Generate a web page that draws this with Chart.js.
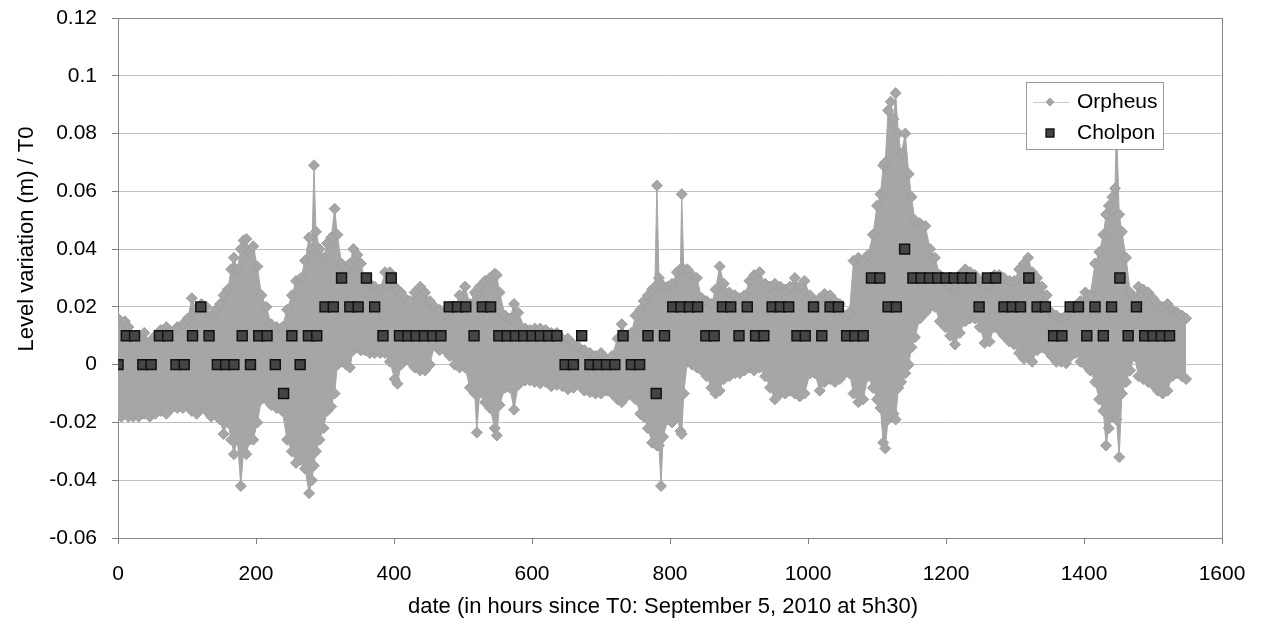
<!DOCTYPE html>
<html>
<head>
<meta charset="utf-8">
<title>Level variation - Orpheus / Cholpon</title>
<script src="https://cdn.jsdelivr.net/npm/chart.js@4.4.1/dist/chart.umd.min.js"></script>
<style>
    body { margin: 0; background: #ffffff; }
    #wrap { width: 1262px; height: 623px; }
</style>
</head>
<body>
<div id="wrap"><canvas id="levelChart" width="1262" height="623"></canvas></div>
<script>
// ===================================
// Data
// ===================================

// Orpheus: dense record, kept as its upper and lower envelope (hours since T0)
const orpheusHours = [
    0, 5, 10, 15, 22, 30, 38, 46, 54, 62,
    70, 78, 86, 94, 101, 107, 114, 121, 128, 135,
    142, 148, 153, 159, 164, 168, 173, 178, 182, 186,
    191, 196, 202, 208, 215, 222, 230, 238, 245, 252,
    258, 265, 271, 277, 281, 284, 287, 292, 298, 303,
    309, 314, 318, 324, 331, 336, 341, 347, 352, 358,
    365, 372, 380, 387, 394, 401, 405, 410, 416, 423,
    430, 438, 445, 452, 459, 466, 474, 481, 488, 495,
    503, 510, 517, 520, 524, 532, 539, 546, 549, 553,
    561, 568, 574, 580, 590, 597, 604, 612, 620, 628,
    636, 644, 652, 660, 668, 676, 684, 692, 700, 708,
    716, 724, 730, 737, 744, 750, 757, 762, 768, 774,
    778, 781, 784, 787, 790, 797, 803, 810, 815, 817,
    820, 825, 832, 839, 846, 853, 860, 866, 872, 878,
    886, 894, 901, 908, 915, 922, 930, 938, 945, 952,
    960, 967, 974, 981, 988, 995, 1003, 1010, 1017, 1024,
    1032, 1039, 1046, 1053, 1060, 1066, 1073, 1080, 1087, 1094,
    1100, 1105, 1109, 1112, 1116, 1120, 1124, 1127, 1131, 1135,
    1141, 1146, 1150, 1155, 1162, 1170, 1177, 1184, 1191, 1199,
    1206, 1213, 1220, 1228, 1235, 1242, 1249, 1256, 1263, 1270,
    1277, 1284, 1292, 1299, 1306, 1313, 1319, 1325, 1332, 1339,
    1346, 1353, 1360, 1367, 1374, 1381, 1388, 1395, 1402, 1409,
    1416, 1422, 1428, 1432, 1436, 1441, 1445, 1447, 1451, 1455,
    1461, 1467, 1473, 1479, 1486, 1493, 1500, 1507, 1514, 1521,
    1528, 1535, 1542, 1548
];
const orpheusHigh = [
    0.016, 0.013, 0.015, 0.013, 0.010, 0.009, 0.011, 0.008, 0.010, 0.012,
    0.013, 0.011, 0.013, 0.014, 0.016, 0.023, 0.019, 0.021, 0.020, 0.017,
    0.019, 0.021, 0.024, 0.026, 0.033, 0.037, 0.033, 0.040, 0.043, 0.0435,
    0.039, 0.041, 0.034, 0.024, 0.020, 0.014, 0.013, 0.013, 0.019, 0.024,
    0.029, 0.030, 0.036, 0.044, 0.040, 0.069, 0.046, 0.040, 0.037, 0.042,
    0.044, 0.054, 0.045, 0.035, 0.033, 0.035, 0.040, 0.038, 0.035, 0.029,
    0.028, 0.027, 0.026, 0.032, 0.032, 0.027, 0.026, 0.025, 0.023, 0.022,
    0.025, 0.027, 0.025, 0.022, 0.020, 0.019, 0.0175, 0.020, 0.020, 0.024,
    0.027, 0.021, 0.025, 0.024, 0.027, 0.029, 0.030, 0.0315, 0.031, 0.025,
    0.017, 0.016, 0.021, 0.018, 0.0125, 0.012, 0.0125, 0.0125, 0.012, 0.011,
    0.011, 0.009, 0.009, 0.007, 0.006, 0.005, 0.004, 0.003, 0.004, 0.002,
    0.003, 0.009, 0.014, 0.010, 0.011, 0.017, 0.019, 0.022, 0.024, 0.026,
    0.027, 0.062, 0.030, 0.028, 0.027, 0.027, 0.028, 0.032, 0.033, 0.059,
    0.033, 0.033, 0.031, 0.030, 0.023, 0.022, 0.021, 0.026, 0.034, 0.028,
    0.025, 0.024, 0.023, 0.024, 0.029, 0.031, 0.032, 0.028, 0.027, 0.028,
    0.027, 0.026, 0.027, 0.030, 0.027, 0.029, 0.024, 0.022, 0.023, 0.0245,
    0.024, 0.022, 0.021, 0.017, 0.018, 0.036, 0.037, 0.036, 0.038, 0.045,
    0.055, 0.059, 0.069, 0.070, 0.088, 0.091, 0.085, 0.094, 0.080, 0.073,
    0.080, 0.066, 0.058, 0.050, 0.049, 0.048, 0.040, 0.037, 0.031, 0.029,
    0.027, 0.026, 0.031, 0.033, 0.032, 0.031, 0.029, 0.027, 0.027, 0.031,
    0.031, 0.030, 0.029, 0.029, 0.033, 0.035, 0.037, 0.032, 0.030, 0.027,
    0.024, 0.018, 0.017, 0.016, 0.017, 0.020, 0.020, 0.022, 0.025, 0.024,
    0.035, 0.039, 0.045, 0.052, 0.055, 0.058, 0.061, 0.085, 0.052, 0.046,
    0.037, 0.025, 0.023, 0.027, 0.026, 0.025, 0.023, 0.021, 0.020, 0.021,
    0.019, 0.018, 0.017, 0.016
];
const orpheusLow = [
    -0.016, -0.018, -0.017, -0.018, -0.018, -0.018, -0.017, -0.018, -0.017, -0.016,
    -0.017, -0.015, -0.015, -0.015, -0.014, -0.016, -0.017, -0.015, -0.016, -0.018,
    -0.016, -0.019, -0.024, -0.020, -0.026, -0.031, -0.026, -0.042, -0.030, -0.031,
    -0.026, -0.026, -0.020, -0.012, -0.012, -0.014, -0.015, -0.016, -0.026, -0.030,
    -0.034, -0.033, -0.036, -0.0445, -0.040, -0.035, -0.030, -0.026, -0.022, -0.016,
    -0.0145, -0.010, 0.000, 0.001, 0.000, -0.001, 0.005, 0.006, 0.005, 0.005,
    0.004, 0.004, 0.004, 0.004, 0.001, -0.005, -0.0066, 0.000, 0.002, 0.001,
    -0.001, -0.002, -0.002, 0.000, 0.007, 0.005, 0.005, 0.003, 0.000, -0.001,
    -0.001, -0.008, -0.010, -0.0235, -0.010, -0.013, -0.015, -0.022, -0.0245, -0.014,
    -0.008, -0.008, -0.0156, -0.007, -0.0055, -0.0055, -0.006, -0.0065, -0.006, -0.0075,
    -0.007, -0.0075, -0.0085, -0.008, -0.007, -0.009, -0.0095, -0.010, -0.010, -0.009,
    -0.010, -0.012, -0.013, -0.011, -0.010, -0.012, -0.017, -0.018, -0.022, -0.027,
    -0.027, -0.028, -0.028, -0.042, -0.025, -0.019, -0.020, -0.018, -0.023, -0.024,
    -0.010, 0.001, 0.000, -0.001, -0.002, -0.004, -0.008, -0.010, -0.009, -0.005,
    -0.004, -0.003, -0.003, -0.002, -0.001, -0.002, -0.001, -0.004, -0.008, -0.012,
    -0.010, -0.010, -0.009, -0.010, -0.011, -0.010, -0.003, -0.003, -0.009, -0.006,
    -0.005, -0.006, -0.005, -0.003, -0.003, -0.010, -0.013, -0.012, -0.004, -0.008,
    -0.012, -0.015, -0.027, -0.029, -0.019, -0.018, -0.017, -0.019, -0.008, -0.006,
    -0.003, 0.000, 0.006, 0.0095, 0.016, 0.018, 0.020, 0.020, 0.015, 0.013,
    0.010, 0.007, 0.011, 0.015, 0.016, 0.016, 0.013, 0.0075, 0.008, 0.013,
    0.012, 0.010, 0.008, 0.007, 0.004, 0.002, 0.003, 0.001, 0.005, 0.006,
    0.005, 0.003, 0.001, 0.001, 0.0005, 0.003, 0.004, 0.001, 0.000, -0.002,
    -0.006, -0.012, -0.016, -0.028, -0.022, -0.018, -0.018, -0.019, -0.032, -0.010,
    -0.006, -0.002, 0.003, -0.004, -0.005, -0.006, -0.007, -0.009, -0.010, -0.009,
    -0.004, -0.003, -0.004, -0.005
];

// Cholpon: one reading every 12 hours, centimetre resolution
const cholponHours = [
    0, 12, 24, 36, 48, 60, 72, 84, 96, 108, 120, 132,
    144, 156, 168, 180, 192, 204, 216, 228, 240, 252, 264, 276,
    288, 300, 312, 324, 336, 348, 360, 372, 384, 396, 408, 420,
    432, 444, 456, 468, 480, 492, 504, 516, 528, 540, 552, 564,
    576, 588, 600, 612, 624, 636, 648, 660, 672, 684, 696, 708,
    720, 732, 744, 756, 768, 780, 792, 804, 816, 828, 840, 852,
    864, 876, 888, 900, 912, 924, 936, 948, 960, 972, 984, 996,
    1008, 1020, 1032, 1044, 1056, 1068, 1080, 1092, 1104, 1116, 1128, 1140,
    1152, 1164, 1176, 1188, 1200, 1212, 1224, 1236, 1248, 1260, 1272, 1284,
    1296, 1308, 1320, 1332, 1344, 1356, 1368, 1380, 1392, 1404, 1416, 1428,
    1440, 1452, 1464, 1476, 1488, 1500, 1512, 1524
];
const cholponLevels = [
    0, 0.01, 0.01, 0, 0, 0.01, 0.01, 0, 0, 0.01, 0.02, 0.01,
    0, 0, 0, 0.01, 0, 0.01, 0.01, 0, -0.01, 0.01, 0, 0.01,
    0.01, 0.02, 0.02, 0.03, 0.02, 0.02, 0.03, 0.02, 0.01, 0.03, 0.01, 0.01,
    0.01, 0.01, 0.01, 0.01, 0.02, 0.02, 0.02, 0.01, 0.02, 0.02, 0.01, 0.01,
    0.01, 0.01, 0.01, 0.01, 0.01, 0.01, 0, 0, 0.01, 0, 0, 0,
    0, 0.01, 0, 0, 0.01, -0.01, 0.01, 0.02, 0.02, 0.02, 0.02, 0.01,
    0.01, 0.02, 0.02, 0.01, 0.02, 0.01, 0.01, 0.02, 0.02, 0.02, 0.01, 0.01,
    0.02, 0.01, 0.02, 0.02, 0.01, 0.01, 0.01, 0.03, 0.03, 0.02, 0.02, 0.04,
    0.03, 0.03, 0.03, 0.03, 0.03, 0.03, 0.03, 0.03, 0.02, 0.03, 0.03, 0.02,
    0.02, 0.02, 0.03, 0.02, 0.02, 0.01, 0.01, 0.02, 0.02, 0.01, 0.02, 0.01,
    0.02, 0.03, 0.01, 0.02, 0.01, 0.01, 0.01, 0.01
];

// Axis ticks
const xTicks = [0, 200, 400, 600, 800, 1000, 1200, 1400, 1600];
const yTicks = [-0.06, -0.04, -0.02, 0, 0.02, 0.04, 0.06, 0.08, 0.1, 0.12];

const xTitle = 'date (in hours since T0: September 5, 2010 at 5h30)';
const yTitle = 'Level variation (m) / T0';

const FONT = "'Liberation Sans', Arial, sans-serif";
const ORPHEUS_GREY = '#a6a6a6';

function toPoints(xs, ys) {
    return xs.map((x, i) => ({ x: x, y: ys[i] }));
}

// Box around the plot area (top and right sides are not drawn by the scales)
const plotFrame = {
    id: 'plotFrame',
    beforeDatasetsDraw(chart) {
        const { ctx, chartArea: a } = chart;
        ctx.save();
        ctx.strokeStyle = '#868686';
        ctx.lineWidth = 1;
        ctx.strokeRect(a.left + 0.5, a.top + 0.5, a.right - a.left, a.bottom - a.top);
        ctx.restore();
    }
};

// Axis titles: placed like the Excel original (not centred on the plot)
const axisTitles = {
    id: 'axisTitles',
    afterDraw(chart) {
        const { ctx, chartArea: a } = chart;
        ctx.save();
        ctx.fillStyle = '#000000';
        ctx.font = '22px ' + FONT;
        ctx.textAlign = 'center';
        ctx.textBaseline = 'middle';
        ctx.fillText(xTitle, a.left + 545, a.bottom + 69);
        ctx.translate(27, a.top + 221);
        ctx.rotate(-Math.PI / 2);
        ctx.fillText(yTitle, 0, 0);
        ctx.restore();
    }
};

// Excel-style legend box sitting inside the plot, top right
const insideLegend = {
    id: 'insideLegend',
    afterDatasetsDraw(chart) {
        const { ctx, chartArea: a } = chart;
        const boxW = 137, boxH = 67;
        const bx = a.right - 59 - boxW, by = a.top + 64;
        ctx.save();
        ctx.fillStyle = '#ffffff';
        ctx.strokeStyle = '#9a9a9a';
        ctx.lineWidth = 1;
        ctx.fillRect(bx, by, boxW, boxH);
        ctx.strokeRect(bx + 0.5, by + 0.5, boxW, boxH);

        const entries = chart.data.datasets.filter(d => d.label);
        entries.forEach((ds, i) => {
            const cy = by + 20 + i * 31;
            const mx = bx + 24;
            if (ds.showLine !== false) {
                ctx.strokeStyle = '#c8c8c8';
                ctx.beginPath();
                ctx.moveTo(bx + 7, cy + 0.5);
                ctx.lineTo(bx + 43, cy + 0.5);
                ctx.stroke();
            }
            ctx.fillStyle = ds.pointBackgroundColor;
            ctx.strokeStyle = ds.pointBorderColor;
            ctx.lineWidth = ds.pointBorderWidth;
            Chart.helpers.drawPoint(ctx, {
                pointStyle: ds.pointStyle,
                radius: ds.pointStyle === 'rect' ? 5.5 : 4,
                borderWidth: ds.pointBorderWidth,
                rotation: 0
            }, mx, cy);
            ctx.fillStyle = '#000000';
            ctx.font = '21px ' + FONT;
            ctx.textBaseline = 'middle';
            ctx.textAlign = 'left';
            ctx.fillText(ds.label, bx + 51, cy);
        });
        ctx.restore();
    }
};

function formatLevel(value) {
    return String(parseFloat(Number(value).toFixed(2)));
}

document.addEventListener('DOMContentLoaded', function() {
    const ctx = document.getElementById('levelChart');

    new Chart(ctx, {
        type: 'line',
        data: {
            datasets: [
                {
                    label: 'Orpheus',
                    data: toPoints(orpheusHours, orpheusHigh),
                    borderColor: ORPHEUS_GREY,
                    borderWidth: 1,
                    backgroundColor: ORPHEUS_GREY,
                    fill: '+1',
                    pointStyle: 'rectRot',
                    pointRadius: 5.5,
                    pointBackgroundColor: ORPHEUS_GREY,
                    pointBorderColor: '#9e9e9e',
                    pointBorderWidth: 1,
                    tension: 0,
                    order: 1
                },
                {
                    label: '',
                    data: toPoints(orpheusHours, orpheusLow),
                    borderColor: ORPHEUS_GREY,
                    borderWidth: 1,
                    backgroundColor: ORPHEUS_GREY,
                    fill: false,
                    pointStyle: 'rectRot',
                    pointRadius: 5.5,
                    pointBackgroundColor: ORPHEUS_GREY,
                    pointBorderColor: '#9e9e9e',
                    pointBorderWidth: 1,
                    tension: 0,
                    order: 2
                },
                {
                    label: 'Cholpon',
                    data: toPoints(cholponHours, cholponLevels),
                    showLine: false,
                    pointStyle: 'rect',
                    pointRadius: 7,
                    pointBackgroundColor: '#454545',
                    pointBorderColor: '#111111',
                    pointBorderWidth: 1.5,
                    order: 0
                }
            ]
        },
        options: {
            responsive: false,
            animation: false,
            layout: {
                padding: { top: 18, right: 40, left: 0, bottom: 0 }
            },
            plugins: {
                legend: { display: false },
                tooltip: { enabled: false }
            },
            scales: {
                x: {
                    type: 'linear',
                    min: 0,
                    max: 1600,
                    afterBuildTicks: scale => { scale.ticks = xTicks.map(v => ({ value: v })); },
                    afterFit: scale => {
                        scale.height = 85;
                        scale.paddingLeft = 0;
                        scale.paddingRight = 0;
                    },
                    border: { color: '#808080', width: 1 },
                    grid: {
                        drawOnChartArea: false,
                        drawTicks: true,
                        tickLength: 6,
                        tickColor: '#808080'
                    },
                    ticks: {
                        autoSkip: false,
                        maxRotation: 0,
                        padding: 18,
                        color: '#000000',
                        font: { family: FONT, size: 21 },
                        callback: value => String(value)
                    }
                },
                y: {
                    min: -0.06,
                    max: 0.12,
                    afterBuildTicks: scale => { scale.ticks = yTicks.map(v => ({ value: v })); },
                    afterFit: scale => {
                        scale.width = 118;
                        scale.paddingTop = 0;
                        scale.paddingBottom = 0;
                    },
                    border: { color: '#808080', width: 1 },
                    grid: {
                        color: '#c0c0c0',
                        lineWidth: 1,
                        drawTicks: true,
                        tickLength: 6,
                        tickColor: '#808080'
                    },
                    ticks: {
                        padding: 15,
                        color: '#000000',
                        font: { family: FONT, size: 21 },
                        callback: value => formatLevel(value)
                    }
                }
            }
        },
        plugins: [plotFrame, insideLegend, axisTitles]
    });
});
</script>
</body>
</html>
